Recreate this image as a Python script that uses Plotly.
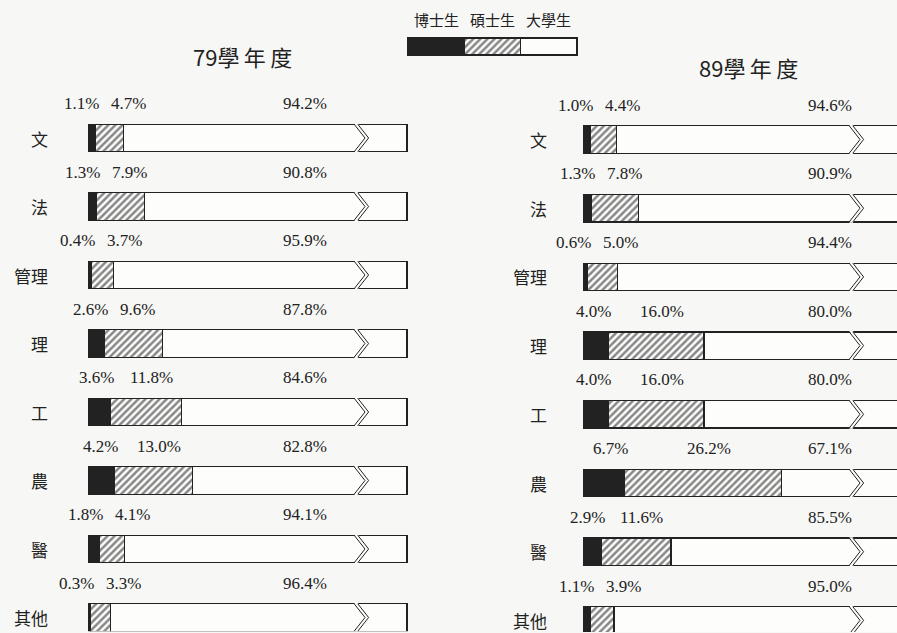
import plotly.graph_objects as go

# ---------------- data ----------------
categories = ["文", "法", "管理", "理", "工", "農", "醫", "其他"]
phd_79 = [1.1, 1.3, 0.4, 2.6, 3.6, 4.2, 1.8, 0.3]
master_79 = [4.7, 7.9, 3.7, 9.6, 11.8, 13.0, 4.1, 3.3]
bachelor_79 = [94.2, 90.8, 95.9, 87.8, 84.6, 82.8, 94.1, 96.4]
phd_89 = [1.0, 1.3, 0.6, 4.0, 4.0, 6.7, 2.9, 1.1]
master_89 = [4.4, 7.8, 5.0, 16.0, 16.0, 26.2, 11.6, 3.9]
bachelor_89 = [94.6, 90.9, 94.4, 80.0, 80.0, 67.1, 85.5, 95.0]
legend_labels = ["博士生", "碩士生", "大學生"]
titles = ["79學\u2009年\u2009度", "89學\u2009年\u2009度"]

# ---------------- style ----------------
W, H = 897, 633
BG = "#f7f7f5"
WHITE = "#fdfdfc"
INK = "#222222"
CAP = 53.0        # drawn (truncated) length of every bar
BREAK = 44.2      # where the break symbol sits
NUM_FONT = dict(family="Liberation Serif", size=17, color=INK)
CJK_FONT = dict(family="Noto Sans CJK TC", size=17, color=INK)
HATCH = dict(shape="/", fgcolor="#111111", bgcolor=WHITE, size=5, solidity=0.5)
LINE = dict(color=INK, width=1.3)


def fx(p):
    return p / W


def fy(p):
    return 1 - p / H


fig = go.Figure()
annotations = []
shapes = []

panels = [
    dict(phd=phd_79, mas=master_79, bac=bachelor_79, title=titles[0],
         x0=89, xr=[-0.3, 53.5], dom_r=(89 + 53.5 * 6) / W,
         c0=138, sp=68.5, ymax=7.2, catx=50, bacx=32.0,
         tx=242, ty=56, ax=""),
    dict(phd=phd_89, mas=master_89, bac=bachelor_89, title=titles[1],
         x0=584, xr=[-0.3, (897 - 584) / 6], dom_r=1.0,
         c0=139.5, sp=68.7, ymax=7.17, catx=549, bacx=37.0,
         tx=748, ty=67, ax="2"),
]

ys = list(range(len(categories)))

for pn in panels:
    xa = "x" + pn["ax"]
    ya = "y" + pn["ax"]
    trunc = [CAP - a - b for a, b in zip(pn["phd"], pn["mas"])]
    fig.add_trace(go.Bar(y=ys, x=pn["phd"], orientation="h", width=0.4,
                         marker=dict(color=INK, line=LINE),
                         xaxis=xa, yaxis=ya, showlegend=False, hoverinfo="skip"))
    fig.add_trace(go.Bar(y=ys, x=pn["mas"], orientation="h", width=0.4,
                         marker=dict(color=WHITE, pattern=HATCH, line=LINE),
                         xaxis=xa, yaxis=ya, showlegend=False, hoverinfo="skip"))
    fig.add_trace(go.Bar(y=ys, x=trunc, orientation="h", width=0.4,
                         marker=dict(color=WHITE, line=LINE),
                         xaxis=xa, yaxis=ya, showlegend=False, hoverinfo="skip"))

    xkey = "xaxis" + pn["ax"]
    ykey = "yaxis" + pn["ax"]
    top_px = pn["c0"] - 0.5 * pn["sp"]
    bot_px = pn["c0"] + pn["ymax"] * pn["sp"]
    fig.update_layout({
        xkey: dict(range=pn["xr"], domain=[fx(pn["x0"] - 1.8), pn["dom_r"]],
                   visible=False, anchor=ya),
        ykey: dict(range=[pn["ymax"], -0.5], domain=[fy(bot_px), fy(top_px)],
                   visible=False, anchor=xa),
    })

    annotations.append(dict(text=pn["title"], xref="paper", yref="paper",
                            x=fx(pn["tx"]), y=fy(pn["ty"]), showarrow=False,
                            xanchor="center", yanchor="middle",
                            font=dict(family="Noto Sans CJK TC", size=22, color=INK)))

    for i, cat in enumerate(categories):
        p, m, b = pn["phd"][i], pn["mas"][i], pn["bac"][i]
        annotations.append(dict(text=cat, xref="paper", yref=ya, x=fx(pn["catx"]),
                                y=i, xanchor="right", yanchor="middle",
                                showarrow=False, font=CJK_FONT))
        annotations.append(dict(text=f"{p:.1f}%", xref=xa, yref=ya, x=p + 0.9,
                                y=i - 0.5, xanchor="right", yanchor="middle",
                                showarrow=False, font=NUM_FONT))
        annotations.append(dict(text=f"{m:.1f}%", xref=xa, yref=ya,
                                x=max(p + 2.2, p + m / 2 - 3.0),
                                y=i - 0.5, xanchor="left", yanchor="middle",
                                showarrow=False, font=NUM_FONT))
        annotations.append(dict(text=f"{b:.1f}%", xref=xa, yref=ya, x=pn["bacx"],
                                y=i - 0.5, xanchor="left", yanchor="middle",
                                showarrow=False, font=NUM_FONT))

        # break symbol (double chevron)
        a, d, g = BREAK, 1.8, 0.6
        t, mid, bo = i - 0.2, i, i + 0.2
        tt, bb = i - 0.212, i + 0.212
        shapes.append(dict(type="path", xref=xa, yref=ya,
                           path=(f"M {a},{tt} L {a + d},{mid} L {a},{bb} "
                                 f"L {a + g},{bb} L {a + g + d},{mid} L {a + g},{tt} Z"),
                           fillcolor=WHITE, line=dict(width=0)))
        for off in (0, g):
            shapes.append(dict(type="path", xref=xa, yref=ya,
                               path=f"M {a + off},{t} L {a + off + d},{mid} L {a + off},{bo}",
                               line=dict(color=INK, width=1.0)))

# ---------------- legend (as a small bar) ----------------
leg_markers = [dict(color=INK, line=LINE),
               dict(color=WHITE, pattern=HATCH, line=LINE),
               dict(color=WHITE, line=LINE)]
for k, lab in enumerate(legend_labels):
    fig.add_trace(go.Bar(y=[0], x=[1], orientation="h", width=1,
                         marker=leg_markers[k], xaxis="x3", yaxis="y3",
                         showlegend=False, hoverinfo="skip"))
    annotations.append(dict(text=lab, xref="x3", yref="paper", x=k + 0.5,
                            y=fy(20), xanchor="center", yanchor="middle",
                            showarrow=False,
                            font=dict(family="Noto Sans CJK TC", size=15, color=INK)))

fig.update_layout(
    xaxis3=dict(range=[-0.05, 3.05], domain=[fx(405.2), fx(579.8)],
                visible=False, anchor="y3"),
    yaxis3=dict(range=[-0.6, 0.6], domain=[fy(56.7), fy(36.3)],
                visible=False, anchor="x3"),
)

fig.update_layout(
    barmode="stack",
    width=W, height=H,
    margin=dict(l=0, r=0, t=0, b=0),
    paper_bgcolor=BG, plot_bgcolor="rgba(0,0,0,0)",
    annotations=annotations, shapes=shapes,
    showlegend=False,
)

fig.write_html("out.html", config={"displayModeBar": False},
               post_script="document.body.style.margin='0';")
